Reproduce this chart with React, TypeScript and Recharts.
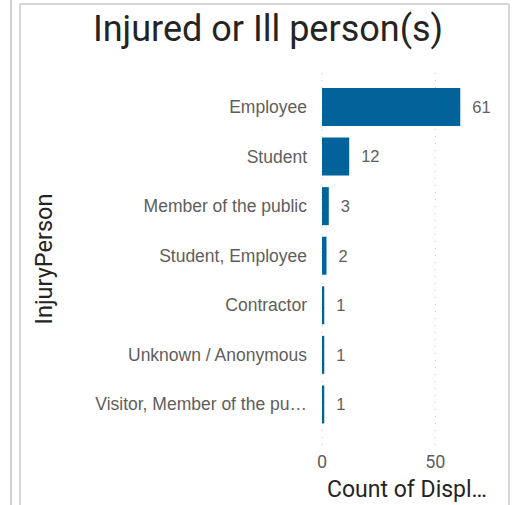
import { BarChart, Bar, XAxis, YAxis, CartesianGrid, LabelList } from 'recharts'

const persons = [
  'Employee',
  'Student',
  'Member of the public',
  'Student, Employee',
  'Contractor',
  'Unknown / Anonymous',
  'Visitor, Member of the public',
]
const counts = [61, 12, 3, 2, 1, 1, 1]
const xTicks = [0, 50]

const data = persons.map((person, i) => ({ person, count: counts[i] }))

const BAR = '#01639a'
const GREY = '#605e5c'
const DARK = '#252423'
const TITLE_FONT = 'Roboto, "Liberation Sans", sans-serif'
const TICK_FONT = '"Liberation Sans", Arial, sans-serif'

const truncate = (s: string) => (s.length > 25 ? s.slice(0, 25) + '…' : s)

function YTitle({ viewBox }: any) {
  const cx = 52
  const cy = viewBox.y + viewBox.height / 2
  return (
    <text
      x={cx}
      y={cy}
      transform={`rotate(-90, ${cx}, ${cy})`}
      textAnchor="middle"
      fontFamily={TITLE_FONT}
      fontSize={23.5}
      fill={DARK}
    >
      InjuryPerson
    </text>
  )
}

export default function App() {
  return (
    <div style={{ position: 'absolute', left: 0, top: 0, width: 513, height: 505, background: '#fff' }}>
      <div style={{ position: 'absolute', left: 10, top: 0, width: 2, height: 505, background: '#d2d2d2' }} />
      <div
        style={{
          position: 'absolute',
          left: 19,
          top: 3,
          width: 487,
          height: 510,
          border: '2px solid #d6d6d6',
          borderRadius: 2,
        }}
      />
      <svg width={513} height={60} style={{ position: 'absolute', left: 0, top: 0 }}>
        <text x={268} y={41} textAnchor="middle" fontFamily={TITLE_FONT} fontSize={36} fill={DARK}>
          Injured or Ill person(s)
        </text>
      </svg>
      <div style={{ position: 'absolute', left: 0, top: 0 }}>
        <BarChart
          width={513}
          height={505}
          data={data}
          layout="vertical"
          margin={{ top: 73, right: 21, bottom: 0, left: 0 }}
          barSize={38}
        >
          <CartesianGrid horizontal={false} syncWithTicks stroke="#c8c8c8" strokeDasharray="1 6" />
          <XAxis
            type="number"
            domain={[0, 75]}
            ticks={xTicks}
            axisLine={false}
            tickLine={false}
            tickSize={0}
            tickMargin={10}
            height={60}
            tick={{ fontSize: 18, fill: GREY, fontFamily: TITLE_FONT }}
            label={{
              value: 'Count of Displ…',
              position: 'insideBottom',
              offset: 8,
              fontSize: 23,
              fill: DARK,
              fontFamily: TITLE_FONT,
            }}
          />
          <YAxis
            type="category"
            dataKey="person"
            width={322}
            axisLine={false}
            tickLine={false}
            tickSize={0}
            tickMargin={15}
            padding={{ top: 9, bottom: 16 }}
            interval={0}
            tickFormatter={truncate}
            tick={{ fontSize: 17.5, fill: GREY, fontFamily: TICK_FONT }}
            label={{ content: <YTitle /> }}
          />
          <Bar dataKey="count" fill={BAR} isAnimationActive={false}>
            <LabelList
              dataKey="count"
              position="right"
              offset={12}
              fill={GREY}
              fontSize={16.5}
              fontFamily={TICK_FONT}
            />
          </Bar>
        </BarChart>
      </div>
    </div>
  )
}
